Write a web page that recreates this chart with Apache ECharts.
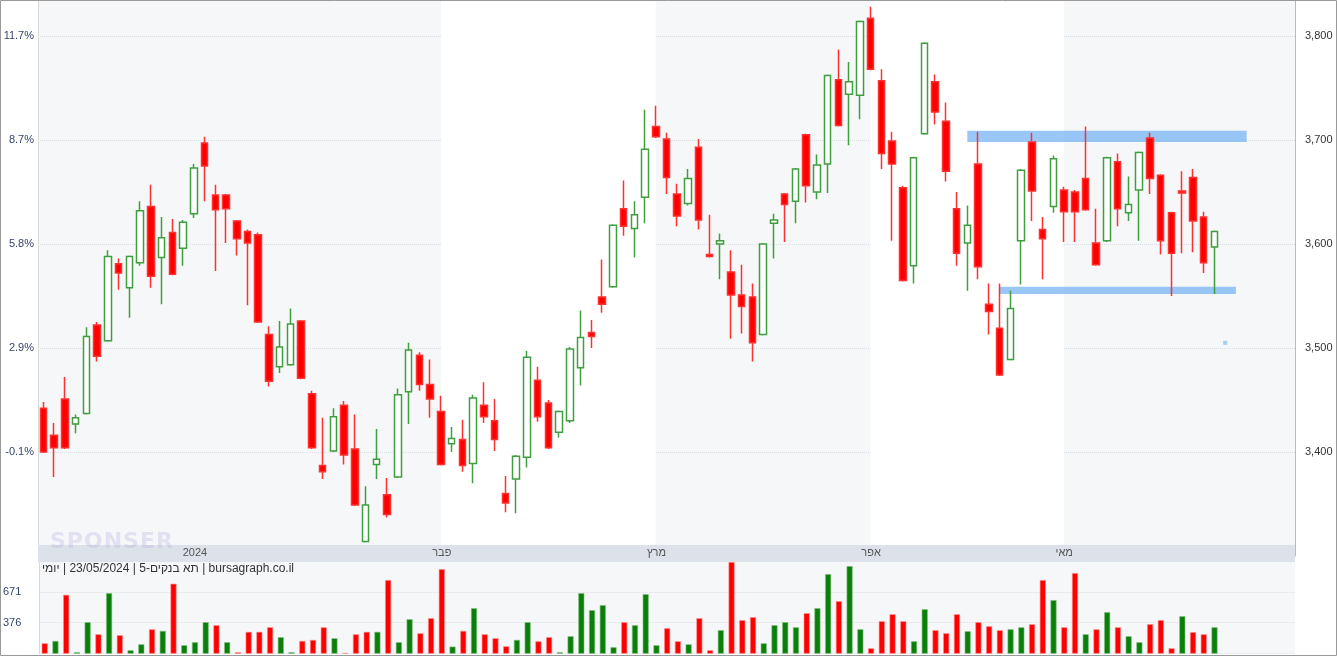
<!DOCTYPE html>
<html><head><meta charset="utf-8">
<script src="https://cdn.jsdelivr.net/npm/echarts@6/dist/echarts.min.js"></script>
<style>html,body{margin:0;padding:0;background:#fff}#c{width:1337px;height:656px}
#cap{position:absolute;left:42px;top:561px;font:12px "Liberation Sans",Arial,sans-serif;color:#333;direction:rtl;white-space:nowrap}
#sp{position:absolute;left:50px;top:528px;font:bold 22px "DejaVu Sans",sans-serif;color:rgba(170,160,220,0.25);letter-spacing:1px}
</style></head><body>
<div id="c"></div>
<div id="sp">SPONSER</div>
<div id="cap" dir="rtl">bursagraph.co.il | תא בנקים-5 | 23/05/2024 | יומי</div>
<script>
// [open, close, low, high]
const ohlc = [
[3442,3400,3399,3448],[3416,3404,3376,3428],[3451,3404,3403,3472],[3427,3433,3418,3436],[3437,3511,3436,3520],
[3522,3492,3487,3525],[3507,3588,3506,3594],[3581,3572,3556,3586],[3558,3588,3529,3589],[3582,3632,3579,3641],
[3636,3569,3558,3657],[3587,3606,3542,3626],[3611,3571,3570,3624],[3596,3621,3579,3623],[3629,3673,3625,3677],
[3697,3675,3641,3703],[3647,3633,3574,3657],[3647,3634,3601,3648],[3622,3605,3589,3623],[3612,3601,3541,3614],
[3609,3525,3524,3611],[3513,3468,3463,3521],[3482,3501,3476,3526],[3484,3523,3483,3538],[3526,3471,3470,3527],
[3456,3404,3403,3459],[3387,3381,3374,3433],[3401,3434,3400,3442],[3445,3397,3388,3449],[3403,3349,3348,3436],
[3314,3349,3313,3367],[3388,3393,3374,3422],[3359,3340,3337,3375],[3376,3455,3375,3461],[3458,3498,3427,3505],
[3493,3465,3459,3496],[3465,3451,3433,3489],[3439,3388,3387,3454],[3408,3413,3400,3424],[3412,3387,3381,3431],
[3389,3452,3370,3455],[3445,3434,3428,3467],[3430,3412,3401,3451],[3360,3351,3342,3377],[3374,3396,3341,3397],
[3395,3491,3385,3497],[3469,3434,3429,3482],[3447,3404,3403,3450],[3419,3439,3414,3440],[3430,3499,3428,3501],
[3481,3510,3464,3536],[3515,3511,3500,3527],[3549,3542,3534,3585],[3559,3618,3558,3619],[3634,3617,3608,3661],
[3615,3628,3587,3641],[3645,3691,3620,3729],[3713,3703,3702,3733],[3701,3664,3648,3707],[3648,3627,3617,3658],
[3639,3663,3637,3672],[3693,3623,3614,3701],[3590,3588,3587,3628],[3600,3603,3566,3610],[3573,3551,3509,3594],
[3551,3540,3514,3580],[3549,3505,3487,3562],[3513,3600,3512,3601],[3620,3623,3586,3629],[3648,3638,3602,3649],
[3641,3672,3620,3673],[3705,3656,3640,3706],[3650,3676,3643,3686],[3677,3762,3649,3763],[3758,3714,3713,3787],
[3744,3756,3695,3775],[3743,3814,3720,3815],[3817,3768,3767,3828],[3757,3687,3672,3768],[3699,3677,3603,3708],
[3654,3565,3564,3656],[3579,3683,3562,3684],[3706,3793,3705,3794],[3756,3727,3715,3763],[3718,3670,3660,3736],
[3634,3591,3579,3650],[3601,3618,3555,3637],[3677,3578,3566,3708],[3542,3535,3513,3562],[3519,3474,3473,3562],
[3489,3538,3488,3555],[3603,3671,3561,3672],[3698,3651,3622,3707],[3614,3605,3566,3626],[3636,3682,3630,3685],
[3652,3631,3602,3655],[3650,3631,3602,3652],[3663,3633,3632,3713],[3601,3580,3579,3634],[3603,3683,3602,3684],
[3679,3634,3617,3687],[3630,3638,3622,3665],[3652,3688,3603,3689],[3702,3663,3648,3707],[3666,3603,3590,3667],
[3630,3591,3550,3631],[3651,3649,3591,3670],[3664,3622,3592,3672],[3626,3582,3572,3631],[3597,3612,3552,3613]
];
const volume = [
178,200,642,92,380,264,658,255,111,168,312,296,748,159,188,380,351,188,92,287,287,331,236,92,200,210,331,226,85,264,
287,287,783,188,408,274,418,888,146,296,514,264,226,149,210,380,197,236,92,245,658,495,543,140,380,351,648,159,322,197,
168,418,111,303,956,399,428,178,351,380,331,466,514,840,581,917,312,130,389,456,389,197,504,303,274,456,293,380,341,303,
312,331,360,783,591,331,850,264,312,476,331,245,188,360,399,130,437,284,264,331
];
const emptySlots = 7;
const monthTicks = {14:'2024', 37:'פבר', 57:'מרץ', 77:'אפר', 95:'מאי'};
const whiteBands = [[37,57],[77,95]];
const priceTicks = [3400,3500,3600,3700,3800];
const pctLabels = ['-0.1%','2.9%','5.8%','8.7%','11.7%'];
const volTicks = [376,671];
const zones = [{from:86,to:112,lo:3698,hi:3709},{from:89,to:111,lo:3552,hi:3559}];
const dotMark = [[110,3505]];
const priceMin = 3300, priceMax = 3834.6;

const n = ohlc.length + emptySlots;
const cats = Array.from({length:n},(_,i)=>String(i));
const volData = volume.map((v,i)=>{
  const up = i===0 ? ohlc[0][1]>ohlc[0][0] : ohlc[i][1]>ohlc[i-1][1];
  return {value:v,itemStyle:{color:up?'#0a800a':'#ff0000',borderColor:up?'#7fc07f':'#ff9090',borderWidth:0.6}};
});
const fmtP = v=>v.toLocaleString('en-US');
const chart = echarts.init(document.getElementById('c'));
const gridL=38, gridR=42;
chart.setOption({
  animation:false,
  grid:[
    {left:gridL,right:gridR,top:0,height:556,show:true,backgroundColor:'#f6f7f9',borderWidth:0},
    {left:gridL,right:gridR,top:561,height:92.4,show:true,backgroundColor:'#f6f7f9',borderWidth:0}
  ],
  xAxis:[
    {type:'category',data:cats,gridIndex:0,boundaryGap:true,axisLine:{show:false},axisTick:{show:false},axisLabel:{show:false},splitLine:{show:false}},
    {type:'category',data:cats,gridIndex:1,boundaryGap:true,position:'top',z:10,axisLine:{show:false},axisTick:{show:false},
     axisLabel:{interval:(i)=>monthTicks[i]!==undefined,formatter:(v,i)=>monthTicks[i]||'',color:'#555',fontSize:11,margin:3,fontFamily:'Liberation Sans'}}
  ],
  yAxis:[
    {type:'value',gridIndex:0,position:'right',min:priceMin,max:priceMax,interval:100,
     axisLine:{show:true,lineStyle:{color:'#bbb'}},axisTick:{show:false},
     axisLabel:{formatter:v=>priceTicks.includes(v)?fmtP(v):'',color:'#333',fontSize:11,margin:10,fontFamily:'Liberation Sans'},
     splitLine:{show:true,lineStyle:{color:'#dcdfe4',type:'dotted',width:1}}},
    {type:'value',gridIndex:0,position:'left',min:priceMin,max:priceMax,interval:100,
     axisLine:{show:true,lineStyle:{color:'#d8d8d8'}},axisTick:{show:false},
     axisLabel:{formatter:v=>{const k=priceTicks.indexOf(v);return k>=0?pctLabels[k]:'';},color:'#34466b',fontSize:11,margin:4,fontFamily:'Liberation Sans'},
     splitLine:{show:false}},
    {type:'value',gridIndex:1,position:'left',min:81,max:966,interval:295,
     axisLine:{show:true,lineStyle:{color:'#d8d8d8'}},axisTick:{show:false},
     axisLabel:{formatter:v=>volTicks.includes(v)?String(v):'',color:'#34466b',fontSize:11,margin:18,fontFamily:'Liberation Sans'},
     splitLine:{show:true,lineStyle:{color:'#dcdfe4',type:'dotted'}}}
  ],
  series:[
    {type:'candlestick',xAxisIndex:0,yAxisIndex:0,data:ohlc,barWidth:7,
     itemStyle:{color:'#ffffff',color0:'#ff0000',borderColor:'#3f9f3f',borderColor0:'#ff3030',borderWidth:1.5},
     markArea:{silent:true,itemStyle:{color:'#ffffff'},data:whiteBands.map(b=>[{xAxis:b[0],yAxis:priceMin},{xAxis:b[1],yAxis:priceMax}])}},
    {type:'line',xAxisIndex:0,yAxisIndex:0,data:[],z:5,
     markArea:{silent:true,itemStyle:{color:'rgba(110,175,245,0.7)'},data:zones.map(z=>[{xAxis:z.from,yAxis:z.lo},{xAxis:z.to,yAxis:z.hi}])}},
    {type:'scatter',xAxisIndex:0,yAxisIndex:0,data:dotMark,symbol:'rect',symbolSize:4,itemStyle:{color:'#90c4f5'}},
    {type:'bar',xAxisIndex:1,yAxisIndex:2,data:volData,barWidth:6}
  ],
  graphic:[
    {type:'rect',shape:{x:gridL,y:545,width:1337-gridL-gridR,height:17},style:{fill:'#dde2ea'},z:3},
    {type:'rect',shape:{x:0.5,y:0.5,width:1336,height:655},style:{fill:'none',stroke:'#999',lineWidth:1},z:20}
  ]
});
</script></body></html>
